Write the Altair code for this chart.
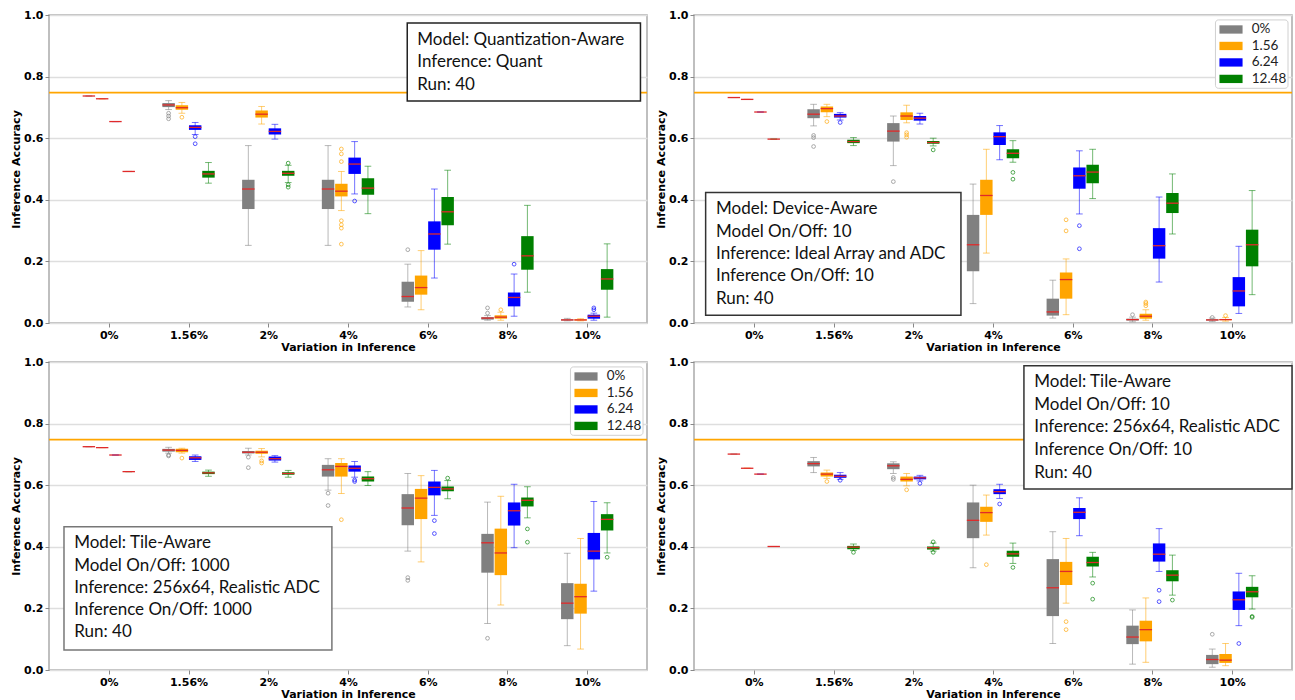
import altair as alt
import pandas as pd

CATS = ["0%", "1.56%", "2%", "4%", "6%", "8%", "10%"]
SERIES = ["0%", "1.56", "6.24", "12.48"]
COLORS = ["#808080", "#ffa500", "#0000ff", "#008000"]
BASELINE = 0.748

# ---- box statistics: (whisker low, q1, median, q3, whisker high) per category ----
P1_GRAY = [(0.737, 0.737, 0.737, 0.737, 0.737), (0.693, 0.701, 0.708, 0.714, 0.722),
           (0.252, 0.370, 0.435, 0.465, 0.576), (0.252, 0.370, 0.435, 0.465, 0.576),
           (0.052, 0.069, 0.086, 0.134, 0.191), (0.009, 0.011, 0.016, 0.019, 0.024),
           (0.007, 0.008, 0.010, 0.012, 0.015)]
P1_ORANGE = [(0.728, 0.728, 0.728, 0.728, 0.728), (0.681, 0.692, 0.699, 0.707, 0.716),
             (0.646, 0.667, 0.678, 0.690, 0.703), (0.365, 0.411, 0.428, 0.452, 0.492),
             (0.043, 0.092, 0.115, 0.154, 0.235), (0.009, 0.014, 0.019, 0.025, 0.035),
             (0.007, 0.008, 0.010, 0.012, 0.014)]
P1_BLUE = [(0.654, 0.654, 0.654, 0.654, 0.654), (0.612, 0.627, 0.635, 0.642, 0.651),
           (0.597, 0.612, 0.622, 0.632, 0.645), (0.419, 0.484, 0.516, 0.537, 0.589),
           (0.146, 0.238, 0.289, 0.330, 0.435), (0.022, 0.054, 0.083, 0.099, 0.159),
           (0.009, 0.014, 0.022, 0.027, 0.032)]
P1_GREEN = [(0.492, 0.492, 0.492, 0.492, 0.492), (0.454, 0.472, 0.484, 0.494, 0.521),
            (0.456, 0.478, 0.486, 0.494, 0.512), (0.355, 0.416, 0.438, 0.470, 0.509),
            (0.256, 0.317, 0.361, 0.409, 0.496), (0.100, 0.173, 0.218, 0.282, 0.382),
            (0.019, 0.108, 0.143, 0.175, 0.257)]
P1_OUT_GRAY = [(2, 0.681), (2, 0.672), (2, 0.663), (5, 0.238), (6, 0.049), (6, 0.032)]
P1_OUT_ORANGE = [(2, 0.668), (4, 0.565), (4, 0.549), (4, 0.524), (4, 0.332), (4, 0.319),
                 (4, 0.308), (4, 0.256), (6, 0.043)]
P1_OUT_BLUE = [(2, 0.605), (2, 0.582), (4, 0.396), (6, 0.191), (7, 0.049), (7, 0.043)]
P1_OUT_GREEN = [(3, 0.519), (3, 0.449), (3, 0.441)]

P2_GRAY = [(0.732, 0.732, 0.732, 0.732, 0.732), (0.640, 0.665, 0.678, 0.694, 0.710),
           (0.511, 0.589, 0.623, 0.649, 0.672), (0.063, 0.168, 0.254, 0.351, 0.451),
           (0.016, 0.024, 0.036, 0.079, 0.139), (0.004, 0.008, 0.011, 0.014, 0.019),
           (0.005, 0.008, 0.010, 0.012, 0.016)]
P2_ORANGE = [(0.726, 0.726, 0.726, 0.726, 0.726), (0.670, 0.684, 0.696, 0.703, 0.710),
             (0.650, 0.659, 0.672, 0.684, 0.707), (0.227, 0.351, 0.414, 0.465, 0.564),
             (0.027, 0.079, 0.141, 0.164, 0.208), (0.009, 0.014, 0.022, 0.030, 0.043),
             (0.006, 0.009, 0.011, 0.013, 0.018)]
P2_BLUE = [(0.685, 0.685, 0.685, 0.685, 0.685), (0.659, 0.667, 0.672, 0.679, 0.683),
           (0.646, 0.657, 0.665, 0.672, 0.681), (0.530, 0.578, 0.605, 0.619, 0.641),
           (0.354, 0.436, 0.478, 0.505, 0.559), (0.133, 0.209, 0.251, 0.308, 0.409),
           (0.031, 0.054, 0.104, 0.149, 0.249)]
P2_GREEN = [(0.597, 0.597, 0.597, 0.597, 0.597), (0.576, 0.584, 0.589, 0.595, 0.602),
            (0.575, 0.582, 0.586, 0.591, 0.600), (0.522, 0.535, 0.551, 0.564, 0.592),
            (0.404, 0.454, 0.490, 0.514, 0.564), (0.289, 0.357, 0.389, 0.422, 0.484),
            (0.092, 0.184, 0.254, 0.303, 0.430)]
P2_OUT_GRAY = [(2, 0.609), (2, 0.602), (2, 0.573), (3, 0.459), (6, 0.027), (7, 0.018)]
P2_OUT_ORANGE = [(2, 0.654), (3, 0.618), (3, 0.611), (3, 0.603), (5, 0.335), (5, 0.299),
                 (6, 0.068), (6, 0.063), (6, 0.056), (7, 0.024)]
P2_OUT_BLUE = [(2, 0.651), (5, 0.316), (5, 0.241)]
P2_OUT_GREEN = [(3, 0.562), (4, 0.489), (4, 0.467)]

P3_GRAY = [(0.725, 0.725, 0.725, 0.725, 0.725), (0.704, 0.709, 0.714, 0.718, 0.723),
           (0.698, 0.703, 0.707, 0.711, 0.720), (0.584, 0.628, 0.650, 0.666, 0.686),
           (0.386, 0.470, 0.526, 0.571, 0.638), (0.151, 0.316, 0.413, 0.442, 0.545),
           (0.079, 0.165, 0.217, 0.282, 0.379)]
P3_ORANGE = [(0.722, 0.722, 0.722, 0.722, 0.722), (0.704, 0.707, 0.713, 0.718, 0.720),
             (0.692, 0.702, 0.707, 0.712, 0.719), (0.573, 0.628, 0.661, 0.672, 0.686),
             (0.351, 0.490, 0.558, 0.588, 0.631), (0.211, 0.308, 0.380, 0.459, 0.564),
             (0.068, 0.183, 0.238, 0.280, 0.427)]
P3_BLUE = [(0.698, 0.698, 0.698, 0.698, 0.698), (0.677, 0.682, 0.689, 0.694, 0.698),
           (0.675, 0.680, 0.686, 0.693, 0.696), (0.626, 0.644, 0.655, 0.664, 0.677),
           (0.502, 0.567, 0.593, 0.612, 0.648), (0.397, 0.469, 0.517, 0.544, 0.603),
           (0.256, 0.359, 0.386, 0.445, 0.547)]
P3_GREEN = [(0.644, 0.644, 0.644, 0.644, 0.644), (0.629, 0.636, 0.640, 0.644, 0.649),
            (0.626, 0.634, 0.638, 0.642, 0.648), (0.599, 0.612, 0.621, 0.628, 0.644),
            (0.556, 0.580, 0.588, 0.596, 0.615), (0.494, 0.531, 0.551, 0.560, 0.595),
            (0.380, 0.453, 0.489, 0.506, 0.543)]
P3_OUT_GRAY = [(2, 0.698), (2, 0.695), (3, 0.691), (3, 0.657), (4, 0.574), (4, 0.534),
               (5, 0.300), (5, 0.291), (6, 0.103)]
P3_OUT_ORANGE = [(2, 0.688), (3, 0.679), (3, 0.672), (4, 0.488)]
P3_OUT_BLUE = [(4, 0.617), (4, 0.612), (5, 0.485), (5, 0.443)]
P3_OUT_GREEN = [(5, 0.623), (6, 0.458), (6, 0.415), (7, 0.366)]

P4_GRAY = [(0.701, 0.701, 0.701, 0.701, 0.701), (0.641, 0.661, 0.670, 0.678, 0.690),
           (0.638, 0.652, 0.663, 0.671, 0.676), (0.332, 0.428, 0.486, 0.544, 0.600),
           (0.086, 0.175, 0.267, 0.360, 0.449), (0.019, 0.084, 0.107, 0.144, 0.195),
           (0.009, 0.019, 0.034, 0.049, 0.068)]
P4_ORANGE = [(0.655, 0.655, 0.655, 0.655, 0.655), (0.622, 0.628, 0.636, 0.641, 0.649),
             (0.598, 0.612, 0.619, 0.628, 0.638), (0.438, 0.481, 0.511, 0.530, 0.568),
             (0.217, 0.276, 0.320, 0.351, 0.427), (0.025, 0.093, 0.131, 0.160, 0.234),
             (0.014, 0.023, 0.032, 0.052, 0.086)]
P4_BLUE = [(0.636, 0.636, 0.636, 0.636, 0.636), (0.619, 0.624, 0.629, 0.634, 0.641),
           (0.614, 0.619, 0.624, 0.628, 0.632), (0.557, 0.571, 0.579, 0.587, 0.603),
           (0.436, 0.490, 0.512, 0.526, 0.559), (0.320, 0.352, 0.376, 0.411, 0.459),
           (0.144, 0.195, 0.228, 0.255, 0.314)]
P4_GREEN = [(0.401, 0.401, 0.401, 0.401, 0.401), (0.388, 0.392, 0.399, 0.403, 0.409),
            (0.386, 0.391, 0.397, 0.401, 0.412), (0.346, 0.368, 0.377, 0.387, 0.412),
            (0.302, 0.336, 0.349, 0.368, 0.382), (0.243, 0.288, 0.308, 0.324, 0.373),
            (0.198, 0.236, 0.254, 0.270, 0.306)]
P4_OUT_GRAY = [(3, 0.625), (3, 0.619), (7, 0.116)]
P4_OUT_ORANGE = [(2, 0.612), (3, 0.585), (4, 0.342), (5, 0.157), (5, 0.131)]
P4_OUT_BLUE = [(2, 0.616), (3, 0.606), (4, 0.539), (6, 0.259), (6, 0.222), (7, 0.086)]
P4_OUT_GREEN = [(2, 0.382), (3, 0.416), (3, 0.382), (4, 0.333), (5, 0.282), (5, 0.230),
                (6, 0.227), (7, 0.174), (7, 0.171)]

P1_TEXT = ["Model: Quantization-Aware", "Inference: Quant", "Run: 40"]
P2_TEXT = ["Model: Device-Aware", "Model On/Off: 10", "Inference: Ideal Array and ADC",
           "Inference On/Off: 10", "Run: 40"]
P3_TEXT = ["Model: Tile-Aware", "Model On/Off: 1000", "Inference: 256x64, Realistic ADC",
           "Inference On/Off: 1000", "Run: 40"]
P4_TEXT = ["Model: Tile-Aware", "Model On/Off: 10", "Inference: 256x64, Realistic ADC",
           "Inference On/Off: 10", "Run: 40"]

# ---- layout / style constants ----
OFFSETS = [-0.25, -1 / 12, 1 / 12, 0.25]
BOX_HALF = 0.078
CAP_HALF = 0.042
W, H = 598, 308
FONT = "DejaVu Sans"
BOXFONT = "Lato"
# legend placement (data units inside the panel)
LEG_BOX = dict(x=6.79, x2=7.70, y=0.762, y2=0.984)
LEG_TOP, LEG_PITCH = 0.953, 0.0535
LEG_SYM_X, LEG_SYM_X2, LEG_SYM_H = 6.84, 7.13, 0.0135
LEG_LABEL_X = 7.245

X_SCALE = alt.Scale(domain=[0.25, 7.75], nice=False, zero=False)
Y_SCALE = alt.Scale(domain=[0, 1], nice=False, zero=False)
C_SCALE = alt.Scale(domain=SERIES, range=COLORS)
LABEL_EXPR = "[" + ",".join("'" + c + "'" for c in CATS) + "][round(datum.value) - 1]"

XAXIS = alt.Axis(values=list(range(1, len(CATS) + 1)), labelExpr=LABEL_EXPR,
                 title="Variation in Inference", grid=False, labelAngle=0,
                 labelPadding=2, titlePadding=1)
YAXIS = alt.Axis(values=[0, 0.2, 0.4, 0.6, 0.8, 1.0], format=".1f",
                 title="Inference Accuracy", grid=True, minExtent=23, maxExtent=23,
                 titlePadding=5, labelPadding=2)
COL = alt.Color("series:N", scale=C_SCALE, legend=None)


def stats_frame(series_stats):
    rows = []
    for si, stats in enumerate(series_stats):
        for ci, (wlo, q1, med, q3, whi) in enumerate(stats):
            rows.append(dict(series=SERIES[si], pos=ci + 1 + OFFSETS[si],
                             wlo=wlo, q1=q1, med=med, q3=q3, whi=whi))
    return pd.DataFrame(rows)


def outlier_frame(series_out):
    rows = []
    for si, outs in enumerate(series_out):
        for cat, v in outs:
            rows.append(dict(series=SERIES[si], pos=cat + OFFSETS[si], value=v))
    return pd.DataFrame(rows)


def X(field):
    return alt.X(field, scale=X_SCALE, axis=XAXIS)


def Y(field):
    return alt.Y(field, scale=Y_SCALE, axis=YAXIS)


def legend_layers():
    ldf = pd.DataFrame({"series": SERIES, "row": list(range(len(SERIES)))})
    lbase = alt.Chart(ldf).transform_calculate(
        yc=f"{LEG_TOP} - datum.row * {LEG_PITCH}",
        ylo=f"{LEG_TOP} - datum.row * {LEG_PITCH} - {LEG_SYM_H}",
        yhi=f"{LEG_TOP} - datum.row * {LEG_PITCH} + {LEG_SYM_H}",
        xs=f"{LEG_SYM_X}", xs2=f"{LEG_SYM_X2}", xl=f"{LEG_LABEL_X}")
    frame = alt.Chart(pd.DataFrame([LEG_BOX])).mark_rect(
        fill="white", stroke="#d0d0d0", strokeWidth=1, cornerRadius=3).encode(
        x=X("x:Q"), x2="x2:Q", y=Y("y:Q"), y2="y2:Q")
    sym = lbase.mark_rect().encode(x=X("xs:Q"), x2="xs2:Q", y=Y("ylo:Q"), y2="yhi:Q",
                                   color=COL)
    lab = lbase.mark_text(align="left", baseline="middle", font=BOXFONT, fontSize=13.5,
                          color="#222222").encode(x=X("xl:Q"), y=Y("yc:Q"), text="series:N")
    return [frame, sym, lab]


def panel(stats, outs, lines, box, text_x, text_y0, pitch, legend, box_stroke):
    df = stats_frame(stats)
    od = outlier_frame(outs)
    base = alt.Chart(df).transform_calculate(
        xl=f"datum.pos - {BOX_HALF}", xr=f"datum.pos + {BOX_HALF}",
        cl=f"datum.pos - {CAP_HALF}", cr=f"datum.pos + {CAP_HALF}")

    ref = alt.Chart(pd.DataFrame({"v": [BASELINE]})).mark_rule(
        color="#ffa500", strokeWidth=1.8).encode(y=Y("v:Q"))

    whisk = base.mark_rule(strokeWidth=1, opacity=0.55).encode(
        x=X("pos:Q"), y=Y("wlo:Q"), y2="whi:Q", color=COL)
    cap_lo = base.mark_rule(strokeWidth=1, opacity=0.55).encode(
        x=X("cl:Q"), x2="cr:Q", y=Y("wlo:Q"), color=COL)
    cap_hi = base.mark_rule(strokeWidth=1, opacity=0.55).encode(
        x=X("cl:Q"), x2="cr:Q", y=Y("whi:Q"), color=COL)
    boxes = base.mark_rect().encode(
        x=X("xl:Q"), x2="xr:Q", y=Y("q1:Q"), y2="q3:Q", color=COL)
    med = base.mark_rule(color="#e02a2a", strokeWidth=1.3).encode(
        x=X("xl:Q"), x2="xr:Q", y=Y("med:Q"))
    pts = alt.Chart(od).mark_point(shape="circle", filled=False, size=14,
                                   strokeWidth=0.9, opacity=0.75).encode(
        x=X("pos:Q"), y=Y("value:Q"), color=COL)

    bx = alt.Chart(pd.DataFrame([box])).mark_rect(
        fill="white", stroke=box_stroke, strokeWidth=1.5).encode(
        x=X("x:Q"), x2="x2:Q", y=Y("y:Q"), y2="y2:Q")
    tdf = pd.DataFrame({"t": lines, "x": [text_x] * len(lines),
                        "y": [text_y0 - i * pitch for i in range(len(lines))]})
    txt = alt.Chart(tdf).mark_text(align="left", baseline="middle", font=BOXFONT,
                                   fontSize=17, color="#111111").encode(
        x=X("x:Q"), y=Y("y:Q"), text="t:N")

    layers = [ref, whisk, cap_lo, cap_hi, boxes, med, pts, bx, txt]
    if legend:
        layers += legend_layers()
    return alt.layer(*layers).properties(width=W, height=H)


p1 = panel([P1_GRAY, P1_ORANGE, P1_BLUE, P1_GREEN],
           [P1_OUT_GRAY, P1_OUT_ORANGE, P1_OUT_BLUE, P1_OUT_GREEN], P1_TEXT,
           dict(x=4.743, x2=7.668, y=0.721, y2=0.974), 4.869, 0.919, 0.0725, False,
           "#222222")
p2 = panel([P2_GRAY, P2_ORANGE, P2_BLUE, P2_GREEN],
           [P2_OUT_GRAY, P2_OUT_ORANGE, P2_OUT_BLUE, P2_OUT_GREEN], P2_TEXT,
           dict(x=0.396, x2=3.598, y=0.025, y2=0.424), 0.526, 0.370, 0.073, True,
           "#333333")
p3 = panel([P3_GRAY, P3_ORANGE, P3_BLUE, P3_GREEN],
           [P3_OUT_GRAY, P3_OUT_ORANGE, P3_OUT_BLUE, P3_OUT_GREEN], P3_TEXT,
           dict(x=0.438, x2=3.798, y=0.065, y2=0.465), 0.566, 0.411, 0.072, True,
           "#777777")
p4 = panel([P4_GRAY, P4_ORANGE, P4_BLUE, P4_GREEN],
           [P4_OUT_GRAY, P4_OUT_ORANGE, P4_OUT_BLUE, P4_OUT_GREEN], P4_TEXT,
           dict(x=4.388, x2=7.75, y=0.588, y2=0.988), 4.518, 0.934, 0.0733, False,
           "#333333")

chart = alt.concat(p1, p2, p3, p4, columns=2, spacing={"row": 39, "column": 47},
                   bounds="flush").resolve_scale(color="independent").properties(
    padding={"left": 9, "top": 8, "right": 0, "bottom": 0}, background="white"
).configure_view(stroke="#aaaaaa", strokeWidth=1.5).configure_axis(
    labelFont=FONT, labelFontWeight="bold", labelFontSize=11, labelColor="black",
    titleFont=FONT, titleFontWeight="bold", titleFontSize=11, titleColor="black",
    tickColor="#888888", tickSize=4, domain=False, gridColor="#dedede", gridWidth=1.5)

chart.save("out.html", embed_options={"renderer": "svg", "actions": False})
